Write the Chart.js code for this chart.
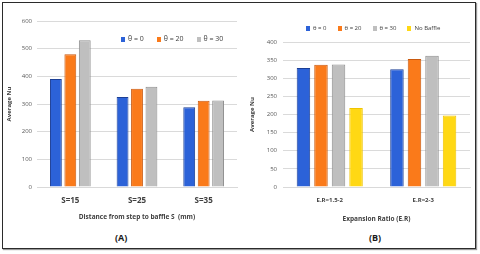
<!DOCTYPE html>
<html>
<head>
<meta charset="utf-8">
<script src="https://cdn.jsdelivr.net/npm/chart.js@4.4.1/dist/chart.umd.min.js"></script>
<style>
  body { margin: 0; background: #fff; width: 480px; height: 254px; position: relative; overflow: hidden; font-family: "Open Sans", sans-serif; }
  .frame { position: absolute; left: 2px; top: 2px; width: 472px; height: 245px; border: 1.5px solid #2b2b2b; box-shadow: 1px 1px 1px #999; }
  .box { position: absolute; }
  .legend { position: absolute; font-size: 7px; color: #404040; white-space: nowrap; }
  .legend span.item { display: inline-block; margin-right: 0; }
  .legend i { display: inline-block; width: 4px; height: 5px; margin-right: 3px; vertical-align: -0.5px; }
  .tag { position: absolute; font-weight: bold; font-size: 9px; color: #1a1a1a; }
</style>
</head>
<body>
<div class="frame"></div>
<div class="box" style="left:3px;top:3px;width:235px;height:220px"><canvas id="chartA"></canvas></div>
<div class="box" style="left:240px;top:3px;width:235px;height:222px"><canvas id="chartB"></canvas></div>
<div class="legend" id="legendA" style="left:121px;top:34px"></div>
<div class="legend" id="legendB" style="left:306px;top:24px;font-size:6px"></div>
<div class="tag" style="left:115px;top:231px">(A)</div>
<div class="tag" style="left:369px;top:231px">(B)</div>
<script>
const labelsA = ["S=15", "S=25", "S=35"];
const theta0A = [390, 325, 288];
const theta20A = [480, 355, 312];
const theta30A = [530, 362, 313];

const labelsB = ["E.R=1.5-2", "E.R=2-3"];
const theta0B = [328, 325];
const theta20B = [337, 353];
const theta30B = [338, 362];
const noBaffleB = [218, 197];

const seriesNames = ["θ = 0", "θ = 20", "θ = 30", "No Baffle"];
const fills = ["#2C62D8", "#FA7A1A", "#BFBFBF", "#FFD814"];
const edges = ["#1C3F95", "#C95A10", "#8E8E8E", "#F0C400"];

function makeSets(arrays) {
    return arrays.map((vals, i) => ({
        label: seriesNames[i],
        data: vals,
        backgroundColor: fills[i],
        borderColor: edges[i],
        borderWidth: 1
    }));
}

function buildLegend(id, count, gap) {
    const el = document.getElementById(id);
    let html = "";
    for (let i = 0; i < count; i++) {
        html += '<span class="item" style="margin-right:' + gap + 'px"><i style="background:' + fills[i] + '"></i>' + seriesNames[i] + '</span>';
    }
    el.innerHTML = html;
}

function makeChart(id, labels, sets, opts) {
    const ctx = document.getElementById(id).getContext("2d");
    return new Chart(ctx, {
        type: "bar",
        data: { labels: labels, datasets: sets },
        options: {
            responsive: true,
            maintainAspectRatio: false,
            animation: false,
            categoryPercentage: opts.cat,
            barPercentage: opts.bar,
            layout: { padding: { top: opts.top, right: opts.right, bottom: 2, left: 0 } },
            plugins: { legend: { display: false }, tooltip: { enabled: false } },
            scales: {
                x: {
                    grid: { display: false, drawTicks: false },
                    border: { color: "#d9d9d9" },
                    ticks: { color: "#404040", font: { family: "Open Sans", size: opts.xFont, weight: "bold" }, padding: opts.xPad },
                    title: { display: true, text: opts.xTitle, color: "#404040", font: { family: "Open Sans", size: 6.5, weight: "bold" }, padding: 0 },
                    afterFit: s => { s.height = opts.xH; }
                },
                y: {
                    min: 0,
                    max: opts.max,
                    ticks: { stepSize: opts.step, color: "#595959", font: { family: "Open Sans", size: 6 }, padding: opts.yPad },
                    grid: { color: "#dadada", drawTicks: false },
                    border: { display: false },
                    title: { display: true, text: "Average Nu", color: "#404040", font: { family: "Open Sans", size: 6, weight: "bold" }, padding: { top: opts.yTitlePad, bottom: 0 } },
                    afterFit: s => { s.width = opts.yW; }
                }
            }
        }
    });
}

makeChart("chartA", labelsA, makeSets([theta0A, theta20A, theta30A]), {
    cat: 0.65, bar: 0.82, top: 18, right: 1, max: 600, step: 100,
    xFont: 8, xPad: 9, xH: 34, yW: 34, yPad: 5, yTitlePad: 3,
    xTitle: "Distance from step to baffle S  (mm)"
});

makeChart("chartB", labelsB, makeSets([theta0B, theta20B, theta30B, noBaffleB]), {
    cat: 0.75, bar: 0.77, top: 39, right: 5, max: 400, step: 50,
    xFont: 6, xPad: 10, xH: 36, yW: 43, yPad: 6, yTitlePad: 9,
    xTitle: "Expansion Ratio (E.R)"
});

buildLegend("legendA", 3, 13);
buildLegend("legendB", 4, 11);
</script>
</body>
</html>
